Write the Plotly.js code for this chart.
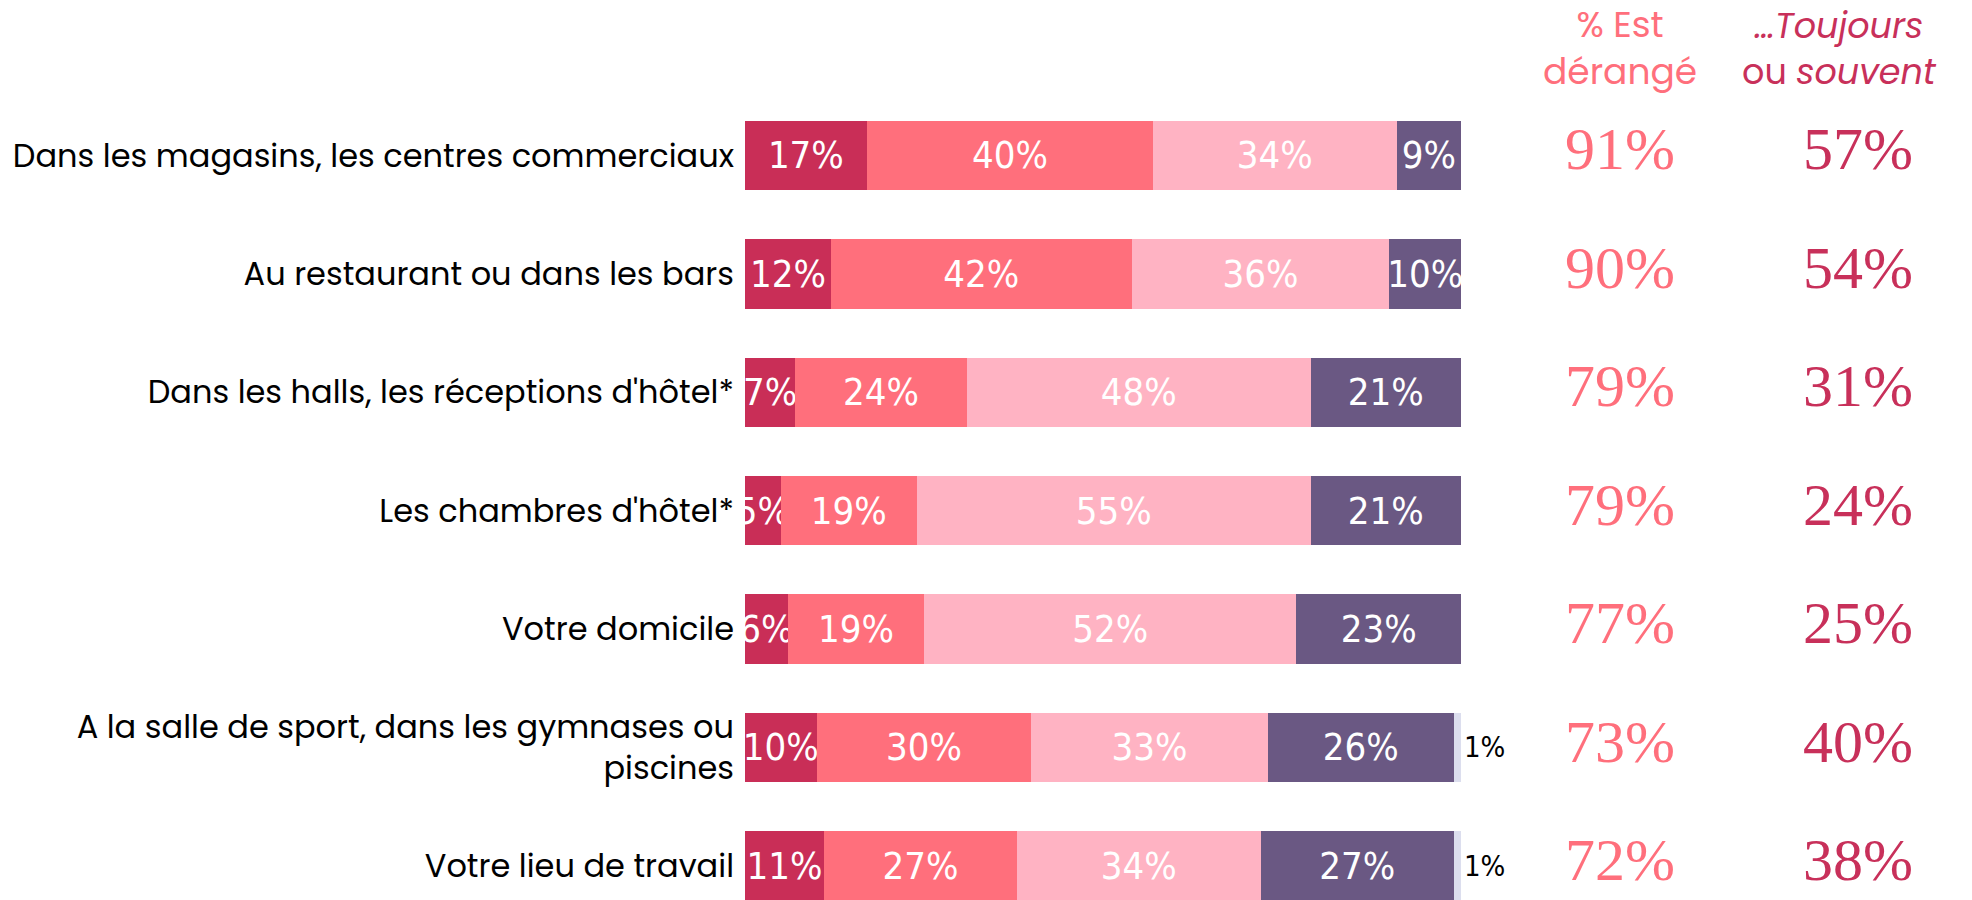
<!DOCTYPE html>
<html>
<head>
<meta charset="utf-8">
<script src="https://cdn.plot.ly/plotly-3.0.1.min.js"></script>
<style>
  html, body { margin: 0; padding: 0; background: #ffffff; }
  #chart { width: 1972px; height: 900px; }
</style>
</head>
<body>
<div id="chart"></div>
<script>
// ---- Data ----
const categories = [
  "Dans les magasins, les centres commerciaux",
  "Au restaurant ou dans les bars",
  "Dans les halls, les réceptions d'hôtel*",
  "Les chambres d'hôtel*",
  "Votre domicile",
  "A la salle de sport, dans les gymnases ou piscines",
  "Votre lieu de travail"
];
const tickLabels = [
  "Dans les magasins, les centres commerciaux",
  "Au restaurant ou dans les bars",
  "Dans les halls, les réceptions d'hôtel*",
  "Les chambres d'hôtel*",
  "Votre domicile",
  "A la salle de sport, dans les gymnases ou<br>piscines",
  "Votre lieu de travail"
];
const toujours = [17, 12, 7, 5, 6, 10, 11];
const souvent  = [40, 42, 24, 19, 19, 30, 27];
const parfois  = [34, 36, 48, 55, 52, 33, 34];
const jamais   = [9, 10, 21, 21, 23, 26, 27];
const nsp      = [null, null, null, null, null, 1, 1];
const estDerange = [91, 90, 79, 79, 77, 73, 72];
const toujoursSouvent = [57, 54, 31, 24, 25, 40, 38];
const seriesNames = ["Toujours", "Souvent", "Parfois", "Jamais", "NSP"];
const header1 = "% Est<br>dérangé";
const header2 = "<i>…Toujours</i><br>ou <i>souvent</i>";

// ---- Styles ----
const colors = ["#C92E57", "#FF6F7C", "#FFB3C3", "#6A5883", "#DCDEEE"];
const labelFont = "Poppins, 'DejaVu Sans', sans-serif";
const barFont = "'Liberation Sans Narrow', 'DejaVu Sans Condensed', Roboto, sans-serif";
const numFont = "'Liberation Serif', 'DejaVu Serif', serif";

const seriesVals = [toujours, souvent, parfois, jamais, nsp];
const traces = seriesVals.map((vals, i) => ({
  type: "bar",
  orientation: "h",
  name: seriesNames[i],
  y: categories,
  x: vals,
  marker: { color: colors[i], line: { width: 0 } },
  texttemplate: "%{x}%",
  textposition: i === 4 ? "outside" : "inside",
  insidetextanchor: "middle",
  textangle: 0,
  constraintext: "none",
  cliponaxis: false,
  textfont: { family: barFont, size: i === 4 ? 29 : 38, color: i === 4 ? "#000000" : "#ffffff" },
  insidetextfont: { family: barFont, size: 38, color: "#ffffff" },
  outsidetextfont: { family: barFont, size: 29, color: "#000000" },
  hoverinfo: "skip"
}));

// pixel helper for header rows (plot spans 90..900 px vertically)
const H = 900, T = 90, B = 0;
const py = p => (H - B - p) / (H - T - B);

const annotations = [];
annotations.push({
  xref: "paper", yref: "paper", x: 1.222, y: py(48), xanchor: "center", yanchor: "middle",
  text: header1, showarrow: false, align: "center",
  font: { family: labelFont, size: 36, color: "#FF6F7C" }
});
annotations.push({
  xref: "paper", yref: "paper", x: 1.528, y: py(48), xanchor: "center", yanchor: "middle",
  text: header2, showarrow: false, align: "center",
  font: { family: labelFont, size: 35, color: "#C8305A" }
});
categories.forEach((c, i) => {
  annotations.push({
    xref: "paper", yref: "y", x: 1.2216, y: c, xanchor: "center", yanchor: "middle", yshift: 6,
    text: estDerange[i] + "%", showarrow: false,
    font: { family: numFont, size: 60, color: "#FF6F7C" }
  });
  annotations.push({
    xref: "paper", yref: "y", x: 1.554, y: c, xanchor: "center", yanchor: "middle", yshift: 6,
    text: toujoursSouvent[i] + "%", showarrow: false,
    font: { family: numFont, size: 60, color: "#C8305A" }
  });
});

const layout = {
  width: 1972,
  height: 900,
  margin: { l: 745, r: 511, t: T, b: B, pad: 0 },
  paper_bgcolor: "#ffffff",
  plot_bgcolor: "#ffffff",
  barmode: "stack",
  bargap: 0.413,
  showlegend: false,
  hovermode: false,
  xaxis: {
    range: [0, 100],
    visible: false,
    fixedrange: true
  },
  yaxis: {
    type: "category",
    range: [6.288, -0.553],
    tickmode: "array",
    tickvals: categories,
    ticktext: tickLabels,
    ticks: "",
    showline: false,
    showgrid: false,
    zeroline: false,
    ticklabelstandoff: 10,
    tickfont: { family: labelFont, size: 32, color: "#000000" },
    automargin: false,
    fixedrange: true
  },
  annotations: annotations
};

Plotly.newPlot("chart", traces, layout, { displayModeBar: false, staticPlot: true });
</script>
</body>
</html>
